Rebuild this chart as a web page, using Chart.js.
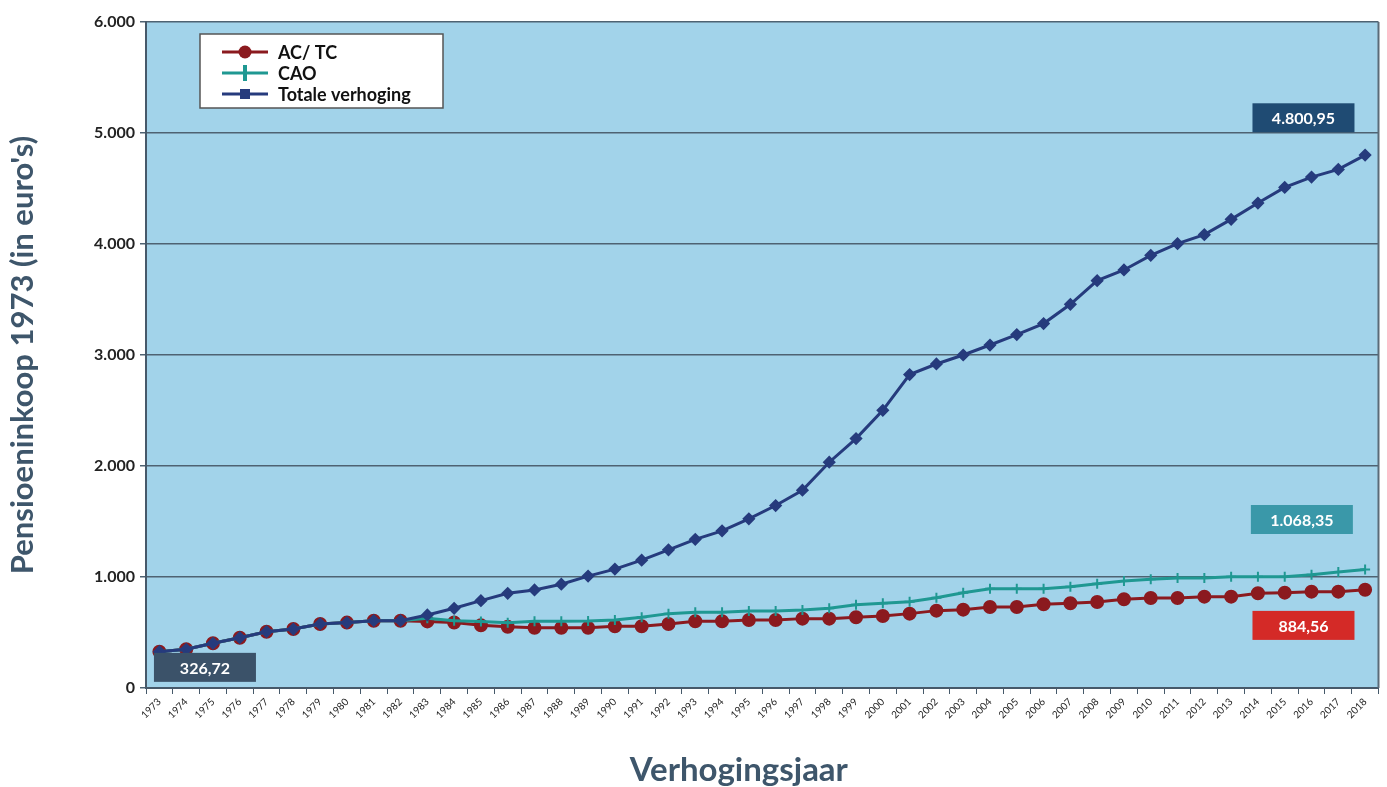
<!DOCTYPE html>
<html>
<head>
<meta charset="utf-8">
<script src="https://cdn.jsdelivr.net/npm/chart.js@4/dist/chart.umd.min.js"></script>
<style>
  body { margin: 0; background: #fff; }
  #wrap { width: 1387px; height: 787px; }
</style>
</head>
<body>
<div id="wrap"><canvas id="pensionChart" width="1387" height="787"></canvas></div>
<script>
// jaren en waarden
var years = [];
for (var y = 1973; y <= 2018; y++) years.push(String(y));

var acTc = [326.72, 349, 403, 453, 507, 531, 577, 589, 606, 606,
  600, 590, 565, 552, 543, 543, 543, 556, 556, 577,
  601, 601, 613, 613, 625, 625, 637, 649, 670, 697,
  706, 730, 730, 754, 763, 775, 799, 811, 811, 823,
  823, 853, 859, 868, 868, 884.56];

var cao = [326.72, 349, 403, 453, 507, 531, 577, 589, 606, 606,
  628, 605, 600, 588, 601, 601, 603, 613, 637, 670,
  682, 682, 694, 694, 703, 718, 751, 763, 778, 814,
  859, 895, 895, 895, 913, 940, 964, 979, 991, 991,
  1003, 1003, 1003, 1021, 1045, 1068.35];

var totaal = [326.72, 349, 403, 453, 507, 531, 577, 589, 606, 606,
  658, 718, 787, 853, 883, 935, 1008, 1071, 1152, 1245,
  1339, 1416, 1524, 1644, 1782, 2034, 2247, 2502, 2824, 2919,
  3000, 3090, 3184, 3283, 3457, 3670, 3766, 3898, 4003, 4084,
  4222, 4369, 4510, 4603, 4672, 4800.95];

var yTicks = [0, 1000, 2000, 3000, 4000, 5000, 6000];

var colAC = '#8b1a1f';
var colCAO = '#1f9892';
var colTot = '#263b7d';

// labels in de grafiek: [tekst, x-index, y-waarde, kleur]
var boxes = [
  ['326,72', 1.7, 186, '#3b5269'],
  ['4.800,95', 42.7, 5137, '#1f4b73'],
  ['1.068,35', 42.64, 1518, '#3a98a9'],
  ['884,56', 42.7, 564, '#d42a27']
];

function fmt(v) {
  return String(v).replace(/\B(?=(\d{3})+(?!\d))/g, '.');
}

var decor = {
  id: 'decor',
  beforeDraw: function (chart) {
    var a = chart.chartArea, ctx = chart.ctx;
    ctx.save();
    ctx.fillStyle = '#a2d3ea';
    ctx.fillRect(a.left, a.top, a.right - a.left, a.bottom - a.top);
    ctx.restore();
  },
  afterDraw: function (chart) {
    var a = chart.chartArea, ctx = chart.ctx;
    var xs = chart.scales.x, ys = chart.scales.y;
    ctx.save();
    // rechterrand
    ctx.strokeStyle = '#5a6b78';
    ctx.lineWidth = 2;
    ctx.beginPath();
    ctx.moveTo(a.right, a.top);
    ctx.lineTo(a.right, a.bottom);
    ctx.stroke();

    // as-titel onder
    ctx.fillStyle = '#3e566b';
    ctx.font = 'bold 33px Lato';
    ctx.textAlign = 'center';
    ctx.textBaseline = 'middle';
    ctx.fillText('Verhogingsjaar', a.left + (a.right - a.left) * 0.481, chart.height - 17);

    // waardelabels
    ctx.font = 'bold 16px Lato';
    boxes.forEach(function (b) {
      var cx = xs.getPixelForValue(b[1]);
      var cy = ys.getPixelForValue(b[2]);
      ctx.fillStyle = b[3];
      ctx.fillRect(cx - 51, cy - 14.5, 102, 29);
      ctx.fillStyle = '#ffffff';
      ctx.fillText(b[0], cx, cy + 1);
    });

    // legenda
    var lx = a.left + 54, ly = a.top + 12;
    ctx.fillStyle = '#ffffff';
    ctx.fillRect(lx, ly, 243, 74);
    ctx.strokeStyle = '#555555';
    ctx.lineWidth = 1.5;
    ctx.strokeRect(lx, ly, 243, 74);
    var items = [
      ['AC/ TC', colAC, 'circle'],
      ['CAO', colCAO, 'cross'],
      ['Totale verhoging', colTot, 'square']
    ];
    ctx.textAlign = 'left';
    ctx.font = 'bold 18px Lato';
    items.forEach(function (it, i) {
      var ry = ly + 18 + i * 21;
      var mx = lx + 45;
      ctx.strokeStyle = it[1];
      ctx.fillStyle = it[1];
      ctx.lineWidth = 3;
      ctx.beginPath();
      ctx.moveTo(lx + 22, ry);
      ctx.lineTo(lx + 68, ry);
      ctx.stroke();
      if (it[2] === 'circle') {
        ctx.beginPath();
        ctx.arc(mx, ry, 6.5, 0, Math.PI * 2);
        ctx.fill();
      } else if (it[2] === 'cross') {
        ctx.fillRect(mx - 2, ry - 8, 4, 16);
      } else {
        ctx.fillRect(mx - 5, ry - 5, 10, 10);
      }
      ctx.fillStyle = '#111111';
      ctx.fillText(it[0], lx + 78, ry + 1);
    });
    ctx.restore();
  }
};

var ctx = document.getElementById('pensionChart').getContext('2d');
var pensionChart = new Chart(ctx, {
  type: 'line',
  data: {
    labels: years,
    datasets: [
      {
        label: 'Totale verhoging',
        data: totaal,
        borderColor: colTot,
        backgroundColor: colTot,
        borderWidth: 3,
        pointStyle: 'rectRot',
        pointRadius: 4.5,
        order: 0
      },
      {
        label: 'AC/ TC',
        data: acTc,
        borderColor: colAC,
        backgroundColor: colAC,
        borderWidth: 3,
        pointStyle: 'circle',
        pointRadius: 5.5,
        order: 2
      },
      {
        label: 'CAO',
        data: cao,
        borderColor: colCAO,
        backgroundColor: colCAO,
        borderWidth: 3,
        pointStyle: 'cross',
        pointRadius: 5,
        pointBorderWidth: 2,
        order: 1
      }
    ]
  },
  options: {
    responsive: false,
    animation: false,
    layout: { padding: { top: 22, right: 1, left: 0, bottom: 0 } },
    plugins: {
      legend: { display: false },
      tooltip: { enabled: false }
    },
    scales: {
      x: {
        offset: true,
        afterFit: function (s) {
          s.height = 99;
          s.paddingLeft = 0;
          s.paddingRight = 0;
        },
        grid: {
          offset: true,
          drawOnChartArea: false,
          drawTicks: true,
          tickLength: 6,
          color: '#46596a'
        },
        border: { display: true, color: '#46596a', width: 2 },
        ticks: {
          minRotation: 45,
          maxRotation: 45,
          autoSkip: false,
          padding: 2,
          color: '#222222',
          font: { family: 'Lato', size: 10 }
        }
      },
      y: {
        min: 0,
        max: 6000,
        afterFit: function (s) { s.width = 146; },
        afterBuildTicks: function (s) {
          s.ticks = yTicks.map(function (v) { return { value: v }; });
        },
        grid: {
          color: '#4e6272',
          lineWidth: 1.5,
          tickLength: 6
        },
        border: { display: true, color: '#46596a', width: 2 },
        ticks: {
          padding: 5,
          color: '#222222',
          font: { family: 'Lato', size: 16, weight: 'bold' },
          callback: function (v) { return fmt(v); }
        },
        title: {
          display: true,
          text: "Pensioeninkoop 1973 (in euro's)",
          color: '#3e566b',
          font: { family: 'Lato', size: 31, weight: 'bold' },
          padding: { top: 4, bottom: 0 }
        }
      }
    }
  },
  plugins: [decor]
});
</script>
</body>
</html>
